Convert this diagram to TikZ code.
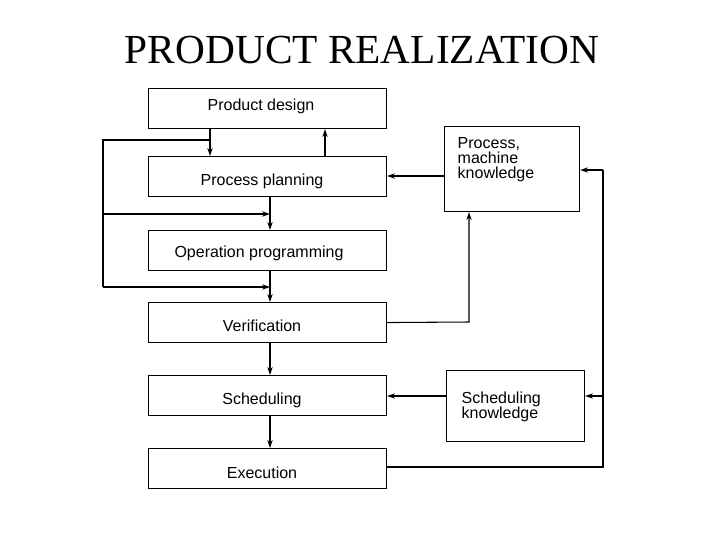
\documentclass[tikz,border=0pt]{standalone}
\usepackage{fontspec}
\setmainfont{Liberation Sans}
\newfontfamily\titlefont{Liberation Serif}
\usetikzlibrary{arrows.meta}
\begin{document}
\begin{tikzpicture}[x=0.75pt,y=-0.75pt,
  box/.style={draw,thick,minimum width=178.5pt,minimum height=30pt,inner sep=0pt,font=\fontsize{12}{13}\selectfont},
  kbox/.style={draw,thick,inner sep=0pt,font=\fontsize{12}{12}\selectfont,align=left},
  arr/.style={thick,-{Stealth[length=6pt,width=4pt]}},
  ln/.style={thick}]
\useasboundingbox (0,0) rectangle (720,540);
\node[font=\titlefont\fontsize{31}{33}\selectfont] (title) at (362,50) {PRODUCT REALIZATION};
\node[box,anchor=north west] (pd) at (148,88) {};
\node at (261,106) {\fontsize{12}{13}\selectfont Product design};
\node[box,anchor=north west] (pp) at (148,156) {};
\node at (262,181) {\fontsize{12}{13}\selectfont Process planning};
\node[box,anchor=north west] (op) at (148,230) {};
\node at (259,253) {\fontsize{12}{13}\selectfont Operation programming};
\node[box,anchor=north west] (ve) at (148,302) {};
\node at (262,326) {\fontsize{12}{13}\selectfont Verification};
\node[box,anchor=north west] (sc) at (148,375) {};
\node at (262,400) {\fontsize{12}{13}\selectfont Scheduling};
\node[box,anchor=north west] (ex) at (148,448) {};
\node at (262,473) {\fontsize{12}{13}\selectfont Execution};
\node[kbox,minimum width=101.25pt,minimum height=63.75pt,anchor=north west] (pmk) at (444,126) {};
\node[anchor=north west,align=left,font=\fontsize{12}{11}\selectfont] at (453,133) {Process,\\machine\\knowledge};
\node[kbox,minimum width=103.5pt,minimum height=53.25pt,anchor=north west] (sk) at (446,370) {};
\node[anchor=north west,align=left,font=\fontsize{12}{11.5}\selectfont] at (457,387) {Scheduling\\knowledge};
% main chain
\draw[arr] (pd.south -| 210,0) -- (pp.north -| 210,0);
\draw[arr] (pp.north -| 325,0) -- (pd.south -| 325,0);
\draw[arr] (pp.south -| 270,0) -- (op.north -| 270,0);
\draw[arr] (op.south -| 270,0) -- (ve.north -| 270,0);
\draw[arr] (ve.south -| 270,0) -- (sc.north -| 270,0);
\draw[arr] (sc.south -| 270,0) -- (ex.north -| 270,0);
% left feedback
\coordinate (l1) at (103,140);
\coordinate (l2) at (103,214);
\coordinate (l3) at (103,287);
\draw[ln] (210,140) -- (l1) -- (l3);
\draw[arr] (l2) -- (270,214);
\draw[arr] (l3) -- (270,287);
% right side
\draw[arr] (pmk.west |- 0,176) -- (pp.east |- 0,176);
\draw[arr] (ve.east) -- (469,322) -- (pmk.south -| 469,0);
\draw[arr] (sk.west |- 0,396) -- (sc.east |- 0,396);
\coordinate (r1) at (603,467);
\draw[ln] (ex.east |- r1) -- (r1) -- (603,170);
\draw[arr] (603,170) -- (pmk.east |- 0,170);
\draw[arr] (603,396) -- (sk.east |- 0,396);
\end{tikzpicture}
\end{document}
